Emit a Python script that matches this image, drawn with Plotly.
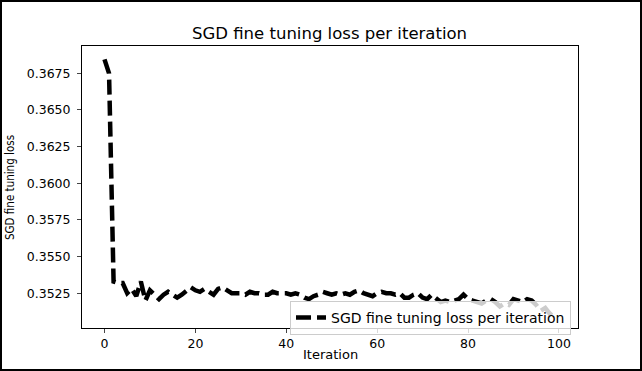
import plotly.graph_objects as go

iterations = list(range(100))
loss = [
    0.36845, 0.3675, 0.3533, 0.3532, 0.3532, 0.3525, 0.3528, 0.3523, 0.3533, 0.3520,
    0.3527, 0.3524, 0.3521, 0.3524, 0.3526, 0.3524, 0.3522, 0.3524, 0.3527, 0.3529,
    0.3527, 0.3526, 0.3528, 0.3526, 0.3524, 0.3528, 0.3529, 0.3527, 0.3525, 0.3525,
    0.3525, 0.3524, 0.3526, 0.3525, 0.3525, 0.3524, 0.3524, 0.3526, 0.3525, 0.3525,
    0.3525, 0.3524, 0.3525, 0.3524, 0.3522, 0.3521, 0.3523, 0.3524, 0.3526, 0.3525,
    0.3524, 0.3525, 0.3524, 0.3525, 0.3524, 0.3526, 0.3527, 0.3525, 0.3524, 0.3523,
    0.3525, 0.3526, 0.3525, 0.3525, 0.3524, 0.3525, 0.3522, 0.3522, 0.3524, 0.3525,
    0.3522, 0.3521, 0.3524, 0.3521, 0.3519, 0.3520, 0.3519, 0.3520, 0.3521, 0.3524,
    0.3521, 0.3520, 0.3519, 0.3518, 0.3520, 0.3521, 0.3519, 0.3516, 0.3518, 0.3517,
    0.3521, 0.3520, 0.3519, 0.3521, 0.3520, 0.3517, 0.3513, 0.3515, 0.3511, 0.3514,
]
x_ticks = [0, 20, 40, 60, 80, 100]
y_ticks = [0.3525, 0.3550, 0.3575, 0.3600, 0.3625, 0.3650, 0.3675]

title_text = "SGD fine tuning loss per iteration"
series_name = "SGD fine tuning loss per iteration"
x_label = "Iteration"
y_label = "SGD fine tuning loss"

W, H = 642, 371
L, R, T, B = 82, 578, 46, 328
pw, ph = R - L, B - T

fig = go.Figure()
fig.add_trace(go.Scatter(
    x=iterations, y=loss, mode="lines", name=series_name,
    line=dict(color="black", width=4.5, dash="15px,6px"),
))

font = "DejaVu Sans"
fig.update_layout(
    width=W, height=H,
    margin=dict(l=L, r=W - R, t=T, b=H - B, pad=0),
    paper_bgcolor="white", plot_bgcolor="white",
    font=dict(family=font, size=12, color="black"),
    showlegend=True,
    legend=dict(
        x=(290 - L) / pw, y=(B - 301) / ph, xanchor="left", yanchor="top",
        bgcolor="rgba(255,255,255,0.8)", bordercolor="#cccccc", borderwidth=1,
        font=dict(family=font, size=14),
        itemwidth=30,
    ),
    xaxis=dict(
        range=[-4.95, 104.2], tickvals=x_ticks, ticks="outside", ticklen=4,
        showgrid=False, zeroline=False, showline=True, linecolor="black",
        linewidth=1, mirror=True, tickfont=dict(size=12.5),
    ),
    yaxis=dict(
        range=[0.35013, 0.36936], tickvals=y_ticks, tickformat=".4f",
        ticks="outside", ticklen=4, ticklabelstandoff=4,
        showgrid=False, zeroline=False, showline=True, linecolor="black",
        linewidth=1, mirror=True, tickfont=dict(size=12.5),
    ),
    annotations=[
        dict(text=title_text, xref="paper", yref="paper",
             x=(329 - L) / pw, y=(B - 33) / ph, xanchor="center", yanchor="middle",
             showarrow=False, font=dict(family=font, size=16.5)),
        dict(text=x_label, xref="paper", yref="paper",
             x=(330 - L) / pw, y=(B - 354) / ph, xanchor="center", yanchor="middle",
             showarrow=False, font=dict(family=font, size=13)),
        dict(text=y_label, xref="paper", yref="paper",
             x=(10 - L) / pw, y=(B - 188) / ph, xanchor="center", yanchor="middle",
             textangle=-90, showarrow=False,
             font=dict(family="DejaVu Sans Condensed, DejaVu Sans", size=11.5)),
    ],
    shapes=[
        dict(type="rect", xref="paper", yref="paper",
             x0=(1 - L) / pw, x1=(W - 1 - L) / pw,
             y0=(B - (H - 1)) / ph, y1=(B - 1) / ph,
             line=dict(color="black", width=2), layer="above"),
    ],
)

fig.write_html("out.html", post_script="document.body.style.margin='0';",
               config={"displayModeBar": False})
